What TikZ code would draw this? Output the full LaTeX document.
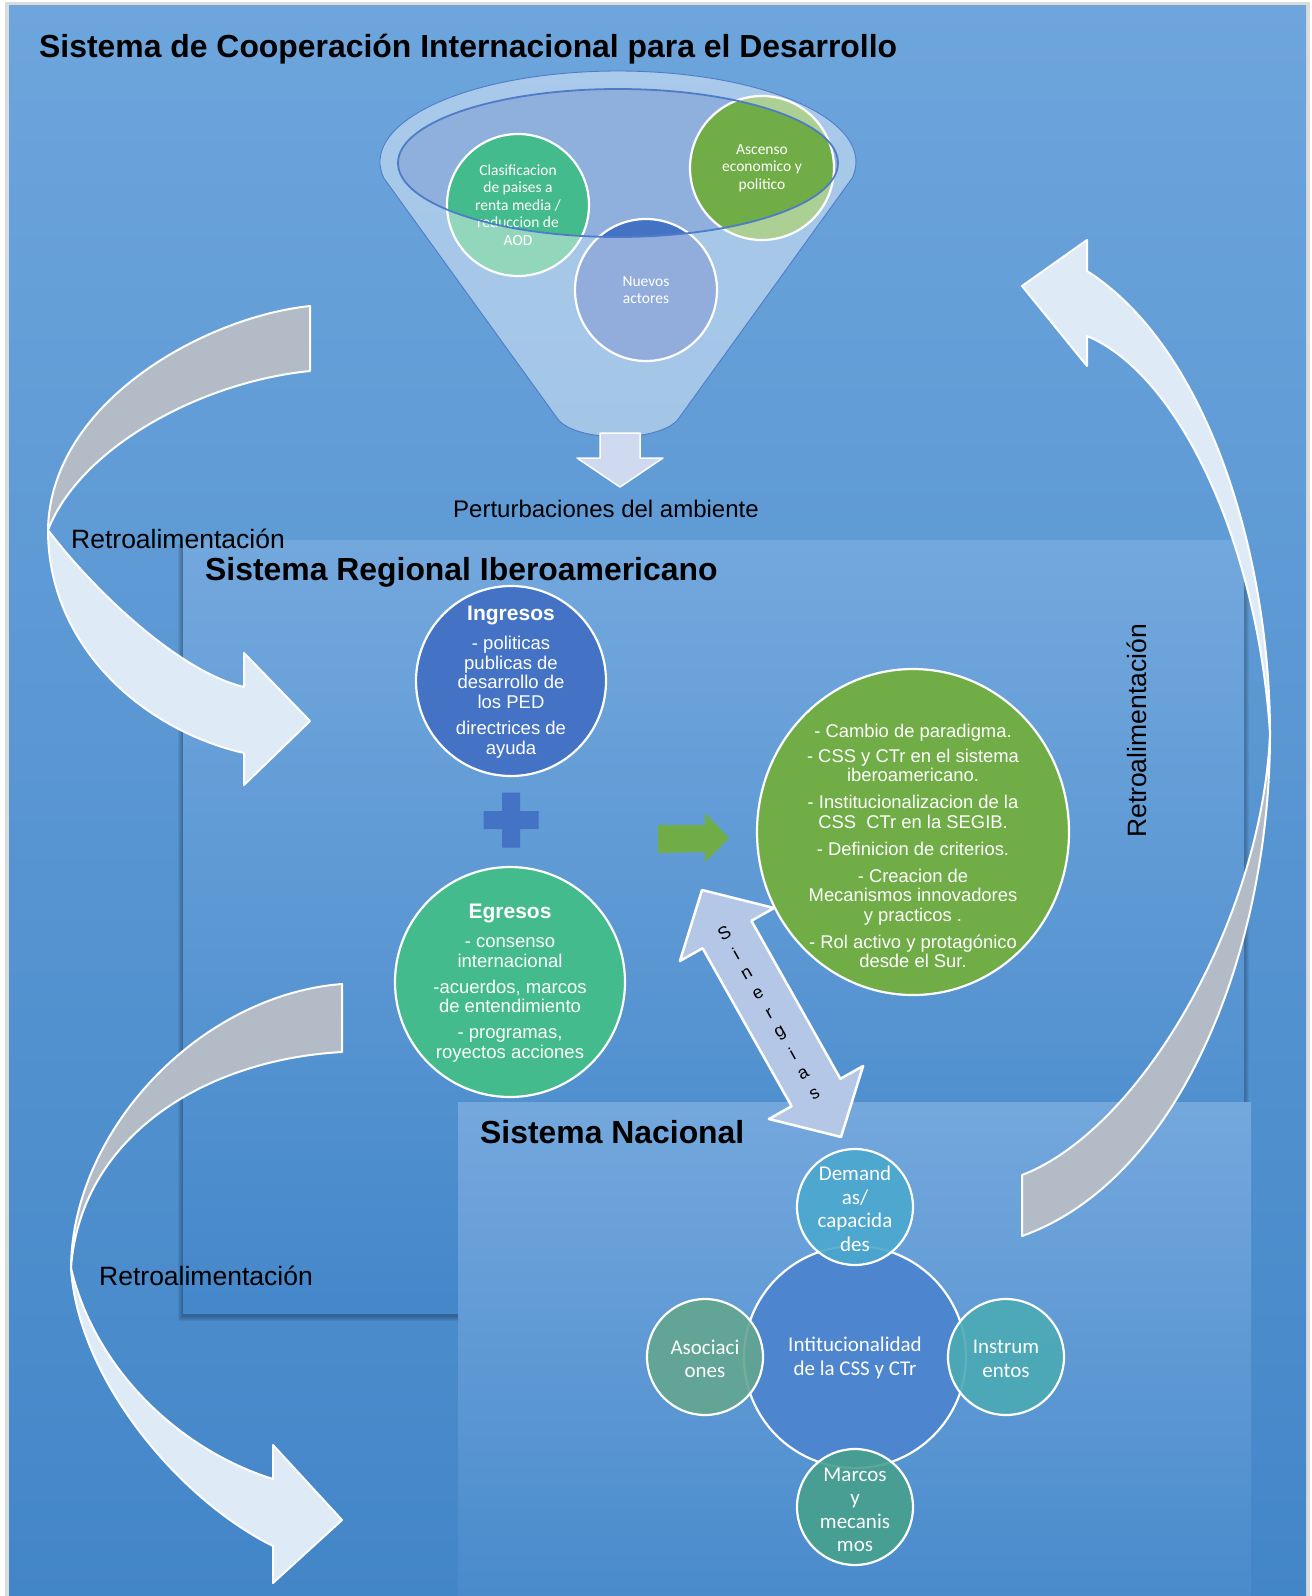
\documentclass[tikz,border=0pt]{standalone}
\usepackage{fontspec}
\setmainfont{Liberation Sans}
\newfontfamily\calib{Carlito}
\usetikzlibrary{shapes.geometric}
\definecolor{bgtop}{HTML}{6DA5DC}
\definecolor{bgmid}{HTML}{5C9CDA}
\definecolor{bgbot}{HTML}{4386C8}
\definecolor{regtop}{HTML}{73A8DD}
\definecolor{regbot}{HTML}{4487CA}
\definecolor{nattop}{HTML}{74A8DD}
\definecolor{natbot}{HTML}{4A8BCC}
\definecolor{ellfill}{HTML}{8FB0DC}
\definecolor{funline}{HTML}{4F7CC8}
\definecolor{clagreen}{HTML}{44BB8C}
\definecolor{accblue}{HTML}{4472C4}
\definecolor{accgreen}{HTML}{70AD47}
\definecolor{bandgray}{HTML}{B3BCC6}
\definecolor{bandlight}{HTML}{DEEAF6}
\definecolor{sinfill}{HTML}{B4C7E7}
\definecolor{dnarrow}{HTML}{CFD9EF}
\definecolor{centblue}{HTML}{4D85CF}
\definecolor{demc}{HTML}{4BA8CD}
\definecolor{asoc}{HTML}{63A68F}
\definecolor{insc}{HTML}{4BAAB4}
\definecolor{marc}{HTML}{47A08D}
\begin{document}
\begin{tikzpicture}[x=1pt,y=-1pt,line join=round,
  circ/.style={circle,draw=white,line width=2.2pt,inner sep=0pt},
  wtxt/.style={text=white,align=center,inner sep=0pt,font=\fontsize{18.5}{19.5}\selectfont},
  ftxt/.style={text=white,align=center,inner sep=0pt,font=\calib\fontsize{15.5}{17.5}\selectfont},
  ntxt/.style={text=white,align=center,inner sep=0pt,font=\calib\fontsize{21}{23.5}\selectfont},
  ttl/.style={anchor=base west,inner sep=0pt,font=\bfseries\fontsize{31.9}{36}\selectfont},
  retro/.style={inner sep=0pt,font=\fontsize{26.5}{30}\selectfont},
  lightband/.style={fill=bandlight,draw=white,line width=2pt},
  grayband/.style={fill=bandgray,draw=white,line width=2pt},
  sinl/.style={inner sep=0pt,rotate=29.4,font=\fontsize{18}{20}\selectfont}
]
\useasboundingbox (0,0) rectangle (1312,1596);

% page and background
\fill[white] (0,0) rectangle (1312,1596);
\fill[black!14] (5,2) rectangle (1310,1596);
\shade[top color=bgtop,middle color=bgmid,bottom color=bgbot] (9,5) rectangle (1306,1596);

% title
\node[ttl] (t1) at (39,57) {Sistema de Cooperación Internacional para el Desarrollo};

% funnel
\fill[ellfill] (618,163) ellipse[x radius=220,y radius=74];
\node[circ,fill=clagreen,minimum size=142] (cla) at (518,205) {};
\node[circ,fill=accblue,minimum size=142] (nue) at (646,290) {};
\node[circ,fill=accgreen,minimum size=144] (asc) at (762,168) {};
\node[ftxt] (clat) at (cla) {Clasificacion\\de paises a\\renta media /\\reduccion de\\AOD};
\node[ftxt] (nuet) at (nue) {Nuevos\\actores};
\node[ftxt] (asct) at (asc) {Ascenso\\economico y\\politico};
\fill[white,fill opacity=0.42,even odd rule]
  (383.6,177.8) arc[start angle=170,end angle=370,x radius=238,y radius=91]
  -- (679,418) .. controls (662,443) and (574,443) .. (557,418) -- cycle
  (618,163) ellipse[x radius=220,y radius=74];
\draw[funline,line width=0.9pt]
  (383.6,177.8) arc[start angle=170,end angle=370,x radius=238,y radius=91]
  -- (679,418) .. controls (662,443) and (574,443) .. (557,418) -- cycle;
\draw[funline,line width=1.8pt] (618,163) ellipse[x radius=220,y radius=74];

% down arrow
\draw[fill=dnarrow,draw=white,line width=1.5pt]
  (600,433) -- (640,433) -- (640,458) -- (663,458) -- (620,487) -- (577,458) -- (600,458) -- cycle;
\node[anchor=base west,inner sep=0pt,font=\fontsize{24}{28}\selectfont] (pert) at (453,517) {Perturbaciones del ambiente};

% regional box
\foreach \s in {1,...,5}
  \fill[black,opacity=0.06] (183-\s,544) rectangle (1244+\s,1316+\s);
\shade[top color=regtop,bottom color=regbot] (183,540) rectangle (1244,1313);
\node[ttl] (t2) at (205,580) {Sistema Regional Iberoamericano};

\node[circ,fill=accblue,minimum size=190] (ing) at (511,681) {};
\node[wtxt] (ingt) at (511,682) {{\bfseries\fontsize{21}{24}\selectfont Ingresos}\\[9.5pt]- politicas\\publicas de\\desarrollo de\\los PED\\[7pt]directrices de\\ayuda};
\node[circ,fill=clagreen,minimum size=230] (egr) at (510,982) {};
\node[wtxt] (egrt) at (510,983) {{\bfseries\fontsize{21}{24}\selectfont Egresos}\\[9.5pt]- consenso\\internacional\\[6.5pt]-acuerdos, marcos\\de entendimiento\\[6.5pt]- programas,\\royectos acciones};
\fill[accblue] (502,792.5) rectangle (520,847.5) (483.5,811) rectangle (538.5,829);
\fill[accgreen] (658,825) -- (705,825) -- (705,813) -- (729,838) -- (705,862) -- (705,852) -- (658,853) -- cycle;
\node[ellipse,draw=white,line width=2.2pt,inner sep=0pt,fill=accgreen,minimum width=312,minimum height=326] (res) at (913,832) {};
\node[wtxt,font=\fontsize{18.4}{19.5}\selectfont] (rest) at (913,846) {- Cambio de paradigma.\\[5.5pt]- CSS y CTr en el sistema\\iberoamericano.\\[7.5pt]- Institucionalizacion de la\\CSS\ \ CTr en la SEGIB.\\[7.5pt]- Definicion de criterios.\\[7.5pt]- Creacion de\\Mecanismos innovadores\\y practicos .\\[7.5pt]- Rol activo y protagónico\\desde el Sur.};

% national box
\shade[top color=nattop,bottom color=natbot] (458,1102) rectangle (1251,1596);
\node[ttl] (t3) at (480,1143) {Sistema Nacional};
\node[circ,fill=centblue,minimum size=222] (cen) at (855,1357) {};
\node[circ,fill=demc,fill opacity=0.9,minimum size=116] (dem) at (855,1207) {};
\node[circ,fill=asoc,fill opacity=0.9,minimum size=116] (aso) at (705,1357) {};
\node[circ,fill=insc,fill opacity=0.9,minimum size=116] (ins) at (1006,1357) {};
\node[circ,fill=marc,fill opacity=0.9,minimum size=116] (mar) at (855,1507) {};
\node[ntxt] (cent) at (855,1358) {Intitucionalidad\\de la CSS y CTr};
\node[ntxt] (demt) at (855,1209) {Demand\\as/\\capacida\\des};
\node[ntxt] (asot) at (705,1359) {Asociaci\\ones};
\node[ntxt] (inst) at (1006,1359) {Instrum\\entos};
\node[ntxt] (mart) at (855,1510) {Marcos\\y\\mecanis\\mos};

% sinergias double arrow
\draw[fill=sinfill,draw=white,line width=2.5pt]
  (702,890) -- (774.1,908.0) -- (751.4,920.8) -- (840.4,1078.8) -- (863.1,1066.0)
  -- (841,1137) -- (768.9,1119.0) -- (791.6,1106.2) -- (702.6,948.2) -- (679.9,961.0) -- cycle;
\foreach \l [count=\k] in {S,i,n,e,r,g,i,a,s}
  \node[sinl] (sin\k) at ({769.5+(\k-5)*11.28},{1013.5+(\k-5)*20.05}) {\l};

% curved arrow upper left
\draw[grayband] (310,306) .. controls (205,317) and (50,402) .. (48,530)
  .. controls (80,448) and (200,382) .. (310,371) -- cycle;
\draw[lightband] (48,530) .. controls (48,644) and (140,729) .. (244,753)
  -- (244,785) -- (310,721) -- (244,653) -- (244,687)
  .. controls (180,672) and (95,592) .. (48,530) -- cycle;

% curved arrow lower left
\draw[grayband] (342,984) .. controls (200,995) and (72,1130) .. (71,1268)
  .. controls (80,1140) and (200,1060) .. (342,1052) -- cycle;
\draw[lightband] (71,1268) .. controls (78,1380) and (180,1500) .. (273,1546)
  -- (273,1583) -- (342,1520) -- (273,1445) -- (273,1479)
  .. controls (180,1450) and (95,1370) .. (71,1268) -- cycle;

% curved arrow right
\draw[grayband] (1270,734) .. controls (1270,950) and (1180,1180) .. (1022,1236)
  -- (1022,1175) .. controls (1140,1130) and (1262,920) .. (1270,734) -- cycle;
\draw[lightband] (1270,734) .. controls (1270,560) and (1210,350) .. (1087,271)
  -- (1087,240) -- (1022,286) -- (1087,366) -- (1087,336)
  .. controls (1180,375) and (1258,545) .. (1270,734) -- cycle;

% labels
\node[retro,anchor=base west] (r1) at (71,548) {Retroalimentación};
\node[retro,anchor=base west] (r2) at (99,1285) {Retroalimentación};
\node[retro,anchor=base,rotate=90] (r3) at (1146,731) {Retroalimentación};
\end{tikzpicture}
\end{document}
